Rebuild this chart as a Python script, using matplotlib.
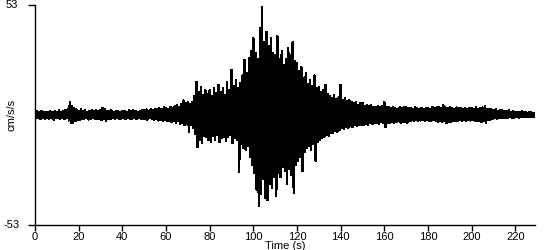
import numpy as np
import matplotlib
matplotlib.use("Agg")
import matplotlib.pyplot as plt

plt.rcParams['font.family'] = ['Liberation Sans', 'DejaVu Sans']

# per-second peak values (cm/s/s), t = 0..229 s
upper = [
    1.5, 1.8, 1.2, 2.0, 1.4, 1.6, 1.3, 1.9, 1.5, 1.7,
    1.6, 2.2, 1.4, 1.8, 2.4, 3.0, 6.4, 4.5, 3.2, 2.6,
    2.0, 2.6, 1.8, 2.2, 1.6, 2.0, 2.4, 1.8, 2.2, 1.7,
    2.4, 3.4, 2.6, 2.0, 1.8, 2.2, 1.6, 2.0, 1.8, 1.5,
    1.8, 2.0, 1.6, 2.2, 1.7, 2.4, 1.9, 1.6, 2.0, 2.2,
    2.2, 2.6, 2.0, 2.8, 2.4, 3.0, 2.6, 3.2, 3.0, 3.6,
    3.4, 3.0, 3.8, 3.4, 4.2, 4.8, 4.0, 5.2, 7.0, 5.6,
    6.0, 5.4, 6.3, 9.0, 16.0, 11.0, 13.5, 9.5, 12.0, 10.0,
    12.0, 9.0, 13.0, 10.5, 14.5, 11.0, 13.0, 9.5, 16.0, 12.0,
    21.7, 14.0, 17.0, 13.0, 15.5, 19.0, 26.5, 20.0, 27.5, 31.0,
    37.0, 30.0, 27.0, 42.0, 52.0, 35.0, 40.0, 33.0, 37.0, 30.0,
    29.0, 38.0, 27.0, 31.0, 24.0, 27.0, 32.0, 29.0, 35.0, 26.0,
    25.0, 21.0, 23.0, 18.0, 20.0, 15.0, 17.0, 14.0, 19.0, 13.0,
    13.5, 11.0, 12.0, 14.5, 10.0, 9.0, 8.0, 9.5, 7.5, 8.5,
    14.5, 7.0, 8.0, 6.5, 7.0, 6.3, 5.5, 6.0, 5.0, 5.5,
    5.8, 4.5, 5.0, 4.2, 4.6, 4.0, 3.8, 4.4, 3.6, 4.2,
    6.0, 3.8, 4.0, 3.4, 3.6, 3.4, 3.0, 3.6, 3.2, 3.8,
    3.8, 3.2, 3.4, 3.0, 3.6, 3.2, 2.8, 3.4, 3.0, 3.2,
    3.4, 3.0, 3.8, 3.2, 3.6, 4.0, 3.4, 4.6, 3.6, 3.2,
    4.0, 3.4, 3.0, 3.6, 3.2, 3.4, 2.8, 3.2, 3.0, 3.4,
    3.2, 2.8, 3.6, 3.0, 3.4, 3.6, 4.2, 3.0, 2.6, 2.8,
    2.4, 2.6, 2.0, 2.2, 2.4, 1.8, 2.0, 2.2, 1.6, 1.8,
    1.5, 1.6, 1.4, 1.8, 1.3, 1.5, 1.2, 1.4, 1.1, 1.0,
]
lower = [
    -1.6, -1.3, -2.0, -1.5, -1.8, -1.2, -1.7, -1.4, -2.2, -1.5,
    -1.4, -1.8, -1.5, -2.0, -1.6, -2.6, -4.0, -3.9, -2.8, -2.2,
    -2.4, -1.8, -2.0, -1.6, -2.2, -1.8, -1.5, -2.0, -1.7, -1.9,
    -2.4, -2.0, -2.6, -1.8, -2.0, -1.6, -1.9, -1.5, -1.8, -2.0,
    -1.6, -1.9, -1.5, -1.8, -2.0, -1.6, -1.8, -1.5, -1.9, -1.7,
    -1.8, -2.2, -1.6, -2.0, -2.4, -2.0, -2.6, -2.2, -2.8, -2.4,
    -3.0, -2.6, -3.4, -2.8, -3.6, -3.0, -4.2, -3.6, -4.8, -4.2,
    -8.0, -5.0, -6.0, -9.0, -15.5, -12.0, -13.5, -10.0, -10.5, -12.0,
    -13.0, -10.0, -12.0, -9.5, -13.0, -11.0, -10.5, -12.5, -10.6, -9.5,
    -13.5, -11.0, -12.0, -27.5, -14.0, -16.0, -17.0, -15.0, -20.0, -24.0,
    -28.0, -36.0, -44.0, -38.0, -31.0, -40.0, -41.0, -33.0, -35.0, -30.0,
    -39.0, -28.0, -30.0, -25.0, -27.0, -33.0, -26.0, -29.0, -37.5, -24.0,
    -22.0, -20.0, -27.0, -18.0, -16.0, -15.0, -17.0, -14.0, -22.0, -13.0,
    -12.0, -11.0, -10.5, -9.5, -10.0, -8.5, -8.7, -7.5, -8.0, -7.0,
    -6.3, -6.8, -5.5, -6.0, -5.2, -5.8, -5.0, -5.4, -4.6, -5.0,
    -4.8, -4.2, -4.6, -4.0, -4.4, -4.0, -3.6, -4.2, -3.4, -3.8,
    -5.8, -3.6, -4.0, -3.2, -3.6, -3.4, -3.0, -3.6, -3.2, -3.4,
    -4.0, -3.0, -2.6, -2.8, -2.4, -3.0, -2.6, -2.2, -2.8, -2.4,
    -2.6, -3.0, -2.4, -2.8, -3.2, -3.0, -3.4, -2.8, -3.8, -3.2,
    -3.4, -3.0, -2.6, -2.8, -2.4, -2.6, -2.2, -2.8, -2.4, -2.6,
    -2.4, -2.8, -3.0, -2.6, -3.4, -3.0, -3.6, -2.4, -2.2, -2.0,
    -1.5, -1.8, -1.4, -1.6, -1.2, -1.5, -1.3, -1.1, -1.4, -1.2,
    -1.0, -1.2, -0.9, -1.1, -1.0, -0.8, -1.0, -0.9, -1.1, -0.8,
]
x_ticks = [0, 20, 40, 60, 80, 100, 120, 140, 160, 180, 200, 220]
y_ticks = [-53, 53]

fig = plt.figure(figsize=(5.5, 2.5), dpi=100)
ax = fig.add_axes([35 / 550, 1 - 225 / 250, 500 / 550, 220 / 250])

n = len(upper)
tt = np.arange(n)
t = np.empty(2 * n)
v = np.empty(2 * n)
t[0::2] = tt
t[1::2] = tt + 0.5
v[0::2] = upper
v[1::2] = lower
ax.plot(t, v, color='black', lw=1.0, antialiased=False)

ax.set_xlim(0, 229)
ax.set_ylim(-53, 53)
ax.set_xticks(x_ticks)
ax.set_yticks(y_ticks)
ax.set_yticklabels([])
for s in ['top', 'right']:
    ax.spines[s].set_visible(False)
for s in ['left', 'bottom']:
    ax.spines[s].set_linewidth(1.0)
ax.tick_params(axis='both', labelsize=8, length=4, width=1, pad=1, colors='black')
ax.tick_params(axis='y', length=5)
# y tick labels centred in the left margin, as in the reference
for yv in y_ticks:
    ax.annotate(str(yv), xy=(-23 / 500, yv), xycoords=('axes fraction', 'data'),
                ha='center', va='center', fontsize=8)
ax.set_xlabel('Time (s)', fontsize=8, labelpad=-1)
ax.text(-23 / 500, 0.5, 'cm/s/s', transform=ax.transAxes, rotation=90,
        ha='center', va='center', fontsize=8)

fig.savefig('out.png', dpi=100)
